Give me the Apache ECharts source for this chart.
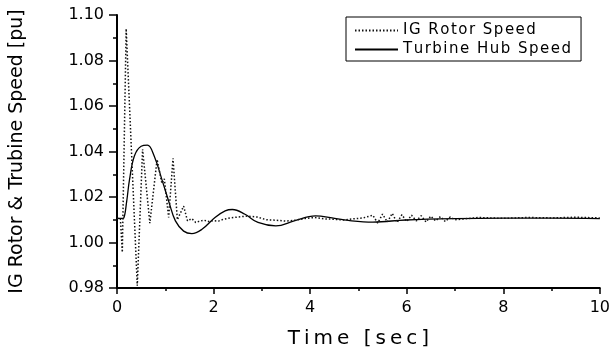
<!DOCTYPE html>
<html>
<head>
<meta charset="utf-8">
<script src="https://cdn.jsdelivr.net/npm/echarts@6/dist/echarts.min.js"></script>
<style>
  html, body { margin: 0; padding: 0; background: #fff; }
  #chart { width: 613px; height: 354px; }
</style>
</head>
<body>
<div id="chart"></div>
<script>
// time [sec] and speed [pu]
const hubTime = [0, 0.1, 0.14, 0.2, 0.26, 0.36, 0.5, 0.63, 0.77, 0.94, 1.08, 1.21, 1.38, 1.55, 1.76, 2.03, 2.24, 2.39, 2.65, 2.92, 3.29, 3.67, 4.11, 4.48, 4.79, 5.3, 5.98, 7.0, 8.0, 9.0, 10.0];
const hubSpeed = [1.0106, 1.0106, 1.0108, 1.0180, 1.0277, 1.0380, 1.0423, 1.0428, 1.0380, 1.0270, 1.0175, 1.0095, 1.0050, 1.0039, 1.0058, 1.0110, 1.0139, 1.0145, 1.0124, 1.0088, 1.0073, 1.0095, 1.0117, 1.0107, 1.0097, 1.0090, 1.0099, 1.0105, 1.0107, 1.0107, 1.0105];

const rotorTime = [0, 0.07, 0.11, 0.19, 0.42, 0.53, 0.68, 0.83, 0.93, 0.98, 1.07, 1.16, 1.25, 1.38, 1.46, 1.55, 1.63, 1.7, 1.8, 1.9, 2.0, 2.1, 2.2, 2.35, 2.5, 2.7, 2.9, 3.1, 3.3, 3.5, 3.7, 3.9, 4.1, 4.3, 4.5, 4.7, 4.9, 5.1, 5.3, 5.4, 5.5, 5.6, 5.7, 5.8, 5.9, 6.0, 6.1, 6.2, 6.3, 6.4, 6.5, 6.6, 6.7, 6.8, 6.9, 7.0, 7.2, 7.5, 8.0, 8.5, 9.0, 9.5, 10.0];
const rotorSpeed = [1.0106, 1.0106, 0.9957, 1.0940, 0.9810, 1.0410, 1.0085, 1.0365, 1.0260, 1.0280, 1.0110, 1.0370, 1.0100, 1.0160, 1.0095, 1.0105, 1.0088, 1.0093, 1.0098, 1.0092, 1.0096, 1.0094, 1.0102, 1.0108, 1.0112, 1.0116, 1.0112, 1.0100, 1.0098, 1.0094, 1.0098, 1.0106, 1.0110, 1.0104, 1.0102, 1.0099, 1.0104, 1.0108, 1.0120, 1.0085, 1.0125, 1.0090, 1.0128, 1.0088, 1.0122, 1.0092, 1.0120, 1.0095, 1.0118, 1.0090, 1.0116, 1.0095, 1.0114, 1.0092, 1.0112, 1.0100, 1.0104, 1.0110, 1.0106, 1.0110, 1.0108, 1.0111, 1.0108];

const seriesNames = ['IG Rotor Speed', 'Turbine Hub Speed'];
const xTicks = [0, 2, 4, 6, 8, 10];

const font = 'DejaVu Sans';
const spaced = (s, sp) => s.split('').join(sp);

const chart = echarts.init(document.getElementById('chart'));

const axisCommon = {
  axisLine: { show: true, lineStyle: { color: '#000', width: 2 } },
  splitLine: { show: false },
  nameLocation: 'middle'
};

chart.setOption({
  backgroundColor: '#fff',
  animation: false,
  grid: { left: 114, right: 10, top: 15, bottom: 65 },
  legend: {
    data: seriesNames,
    orient: 'vertical',
    left: 346,
    top: 17,
    padding: [6, 10, 4, 8],
    itemGap: 4,
    itemWidth: 43,
    itemHeight: 14,
    borderColor: '#000',
    borderWidth: 1,
    itemStyle: { opacity: 0 },
    formatter: name => spaced(name, '\u200A'),
    textStyle: { color: '#000', fontSize: 15, fontFamily: font }
  },
  xAxis: Object.assign({}, axisCommon, {
    type: 'value',
    min: xTicks[0],
    max: xTicks[xTicks.length - 1],
    interval: 2,
    name: spaced('Time [sec]', '\u2009'),
    nameGap: 41,
    nameTextStyle: { color: '#000', fontFamily: font, fontSize: 20 },
    axisTick: { show: true, length: 6, lineStyle: { color: '#000', width: 1.5 } },
    minorTick: { show: true, splitNumber: 2, length: 3, lineStyle: { color: '#000', width: 1.5 } },
    axisLabel: { color: '#000', fontSize: 16, fontFamily: font, margin: 12 }
  }),
  yAxis: Object.assign({}, axisCommon, {
    type: 'value',
    min: 0.98,
    max: 1.10,
    interval: 0.02,
    name: 'IG Rotor & Trubine Speed [pu]',
    nameGap: 90,
    nameTextStyle: { color: '#000', fontFamily: font, fontSize: 19 },
    axisTick: { show: true, length: 8, lineStyle: { color: '#000', width: 1.5 } },
    minorTick: { show: true, splitNumber: 2, length: 4, lineStyle: { color: '#000', width: 1.5 } },
    axisLabel: { color: '#000', fontSize: 16, fontFamily: font, margin: 13, formatter: v => v.toFixed(2) }
  }),
  series: [
    {
      name: seriesNames[0],
      type: 'line',
      symbol: 'none',
      data: rotorTime.map((t, i) => [t, rotorSpeed[i]]),
      lineStyle: { color: '#111', width: 1.5, type: [1.5, 2] },
      itemStyle: { color: '#111' },
      z: 3
    },
    {
      name: seriesNames[1],
      type: 'line',
      symbol: 'none',
      smooth: 0.4,
      data: hubTime.map((t, i) => [t, hubSpeed[i]]),
      lineStyle: { color: '#000', width: 1.3 },
      itemStyle: { color: '#000' },
      z: 2
    }
  ]
});
</script>
</body>
</html>
